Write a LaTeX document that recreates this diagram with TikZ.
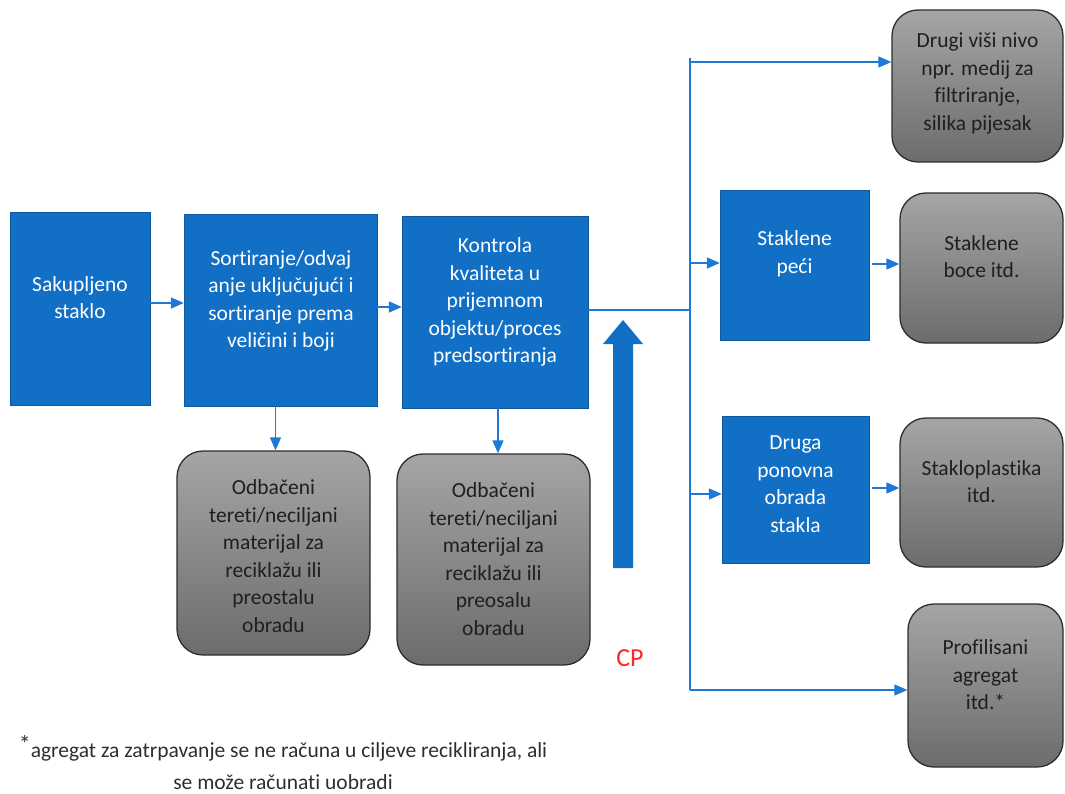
\documentclass[tikz,border=0pt]{standalone}
\usepackage{fontspec}
\setmainfont{Carlito}[Ligatures=NoCommon]
\usetikzlibrary{arrows.meta,calc}
\definecolor{boxblue}{RGB}{17,111,197}
\definecolor{lineblue}{RGB}{30,120,214}
\definecolor{gtop}{RGB}{165,165,165}
\definecolor{gbot}{RGB}{108,108,108}
\definecolor{gborder}{RGB}{45,45,45}
\definecolor{cpred}{RGB}{250,40,40}
\tikzset{
  bluebox/.style={rectangle, fill=boxblue, draw=boxblue!80!black, line width=0.4pt, inner sep=0pt},
  graybox/.style={rectangle, rounded corners=26pt, top color=gtop, bottom color=gbot, draw=gborder, line width=1.3pt, inner sep=0pt},
  wtext/.style={text=white, align=center, inner sep=0pt, font=\fontsize{21.5}{27.5}\selectfont},
  dtext/.style={text=black!88, align=center, inner sep=0pt, font=\fontsize{21.5}{27.5}\selectfont},
  conn/.style={draw=lineblue, line width=1.6pt, -{Triangle[length=13pt,width=11pt]}},
  trunk/.style={draw=lineblue, line width=1.6pt}
}
\begin{document}
\begin{tikzpicture}[x=1pt,y=-1pt]
\useasboundingbox (0,0) rectangle (1065,794);
% blue process boxes
\node[bluebox, minimum width=140pt, minimum height=193pt] (sak) at (80,308.5) {};
\node[wtext] (sakt) at (80,297.5) {Sakupljeno\\staklo};
\node[bluebox, minimum width=193pt, minimum height=192pt] (sort) at (280.5,310) {};
\node[wtext] (sortt) at (281,301) {Sortiranje/odvaj\\anje uključujući i\\sortiranje prema\\veličini i boji};
\node[bluebox, minimum width=186pt, minimum height=192pt] (kon) at (495,312) {};
\node[wtext] (kont) at (495,302) {Kontrola\\kvaliteta u\\prijemnom\\objektu/proces\\predsortiranja};
\node[bluebox, minimum width=149pt, minimum height=150pt] (pec) at (794.5,265) {};
\node[wtext] (pect) at (794.5,254) {Staklene\\peći};
\node[bluebox, minimum width=147pt, minimum height=147pt] (druga) at (795.5,489.5) {};
\node[wtext] (drugat) at (795.5,484) {Druga\\ponovna\\obrada\\stakla};
% gray result boxes
\node[graybox, minimum width=171pt, minimum height=152pt] (g1) at (977.5,86) {};
\node[dtext] (g1t) at (977.5,83.5) {Drugi viši nivo\\npr. medij za\\filtriranje,\\silika pijesak};
\node[graybox, minimum width=163pt, minimum height=150pt] (g2) at (981.5,268) {};
\node[dtext] (g2t) at (981.5,256.5) {Staklene\\boce itd.};
\node[graybox, minimum width=163pt, minimum height=149pt] (g3) at (981.5,492.5) {};
\node[dtext] (g3t) at (981.5,481.5) {Stakloplastika\\itd.};
\node[graybox, minimum width=155pt, minimum height=163pt] (g4) at (985.5,685.5) {};
\node[dtext] (g4t) at (985.5,675) {Profilisani\\agregat\\itd.*};
\node[graybox, minimum width=193pt, minimum height=204pt] (o1) at (273.5,553) {};
\node[dtext] (o1t) at (273.5,556) {Odbačeni\\tereti/neciljani\\materijal za\\reciklažu ili\\preostalu\\obradu};
\node[graybox, minimum width=193pt, minimum height=211pt] (o2) at (493.5,559.5) {};
\node[dtext] (o2t) at (493.5,559) {Odbačeni\\tereti/neciljani\\materijal\ za\\reciklažu ili\\preosalu\\obradu};
% connectors
\draw[conn] ([yshift=5.5pt]sak.east) -- ([yshift=5.5pt]sak.east -| sort.west);
\draw[conn] ([yshift=3pt]sort.east) -- ([yshift=3pt]sort.east -| kon.west);
\draw[conn] ([xshift=-5pt]sort.south) -- ([xshift=-5pt]sort.south |- o1.north);
\draw[conn] ([xshift=3pt]kon.south) -- ([xshift=3pt]kon.south |- o2.north);
\coordinate (j) at (690,310);
\coordinate (ttop) at (690,58);
\coordinate (tbot) at (690,690);
\coordinate (b1) at (690,62);
\coordinate (b2) at (690,263);
\coordinate (b3) at (690,494);
\draw[trunk] ([yshift=2pt]kon.east) -- (j);
\draw[trunk] (ttop) -- (tbot);
\draw[conn] (b1) -- (b1 -| g1.west);
\draw[conn] (b2) -- (b2 -| pec.west);
\draw[conn] (b3) -- (b3 -| druga.west);
\draw[conn] (tbot) -- (tbot -| g4.west);
\draw[conn] ([xshift=3pt,yshift=1pt]pec.east) -- ([yshift=1pt]pec.east -| g2.west);
\draw[conn] ([xshift=3pt,yshift=1.5pt]druga.east) -- ([yshift=1.5pt]druga.east -| g3.west);
% big CP arrow
\fill[boxblue] (613,568) -- (633,568) -- (633,344) -- (643,344) -- (623,320) -- (603,344) -- (613,344) -- cycle;
\node[text=cpred, inner sep=0pt, font=\fontsize{26}{30}\selectfont] (cp) at (630,658) {CP};
% footnote
\node[text=black!82, inner sep=0pt, align=center, font=\fontsize{21.5}{32}\selectfont] (note) at (283,763)
  {\raisebox{5pt}{\fontsize{24}{24}\selectfont *}agregat za zatrpavanje se ne računa u ciljeve recikliranja, ali\\se može računati uobradi};
\end{tikzpicture}
\end{document}
